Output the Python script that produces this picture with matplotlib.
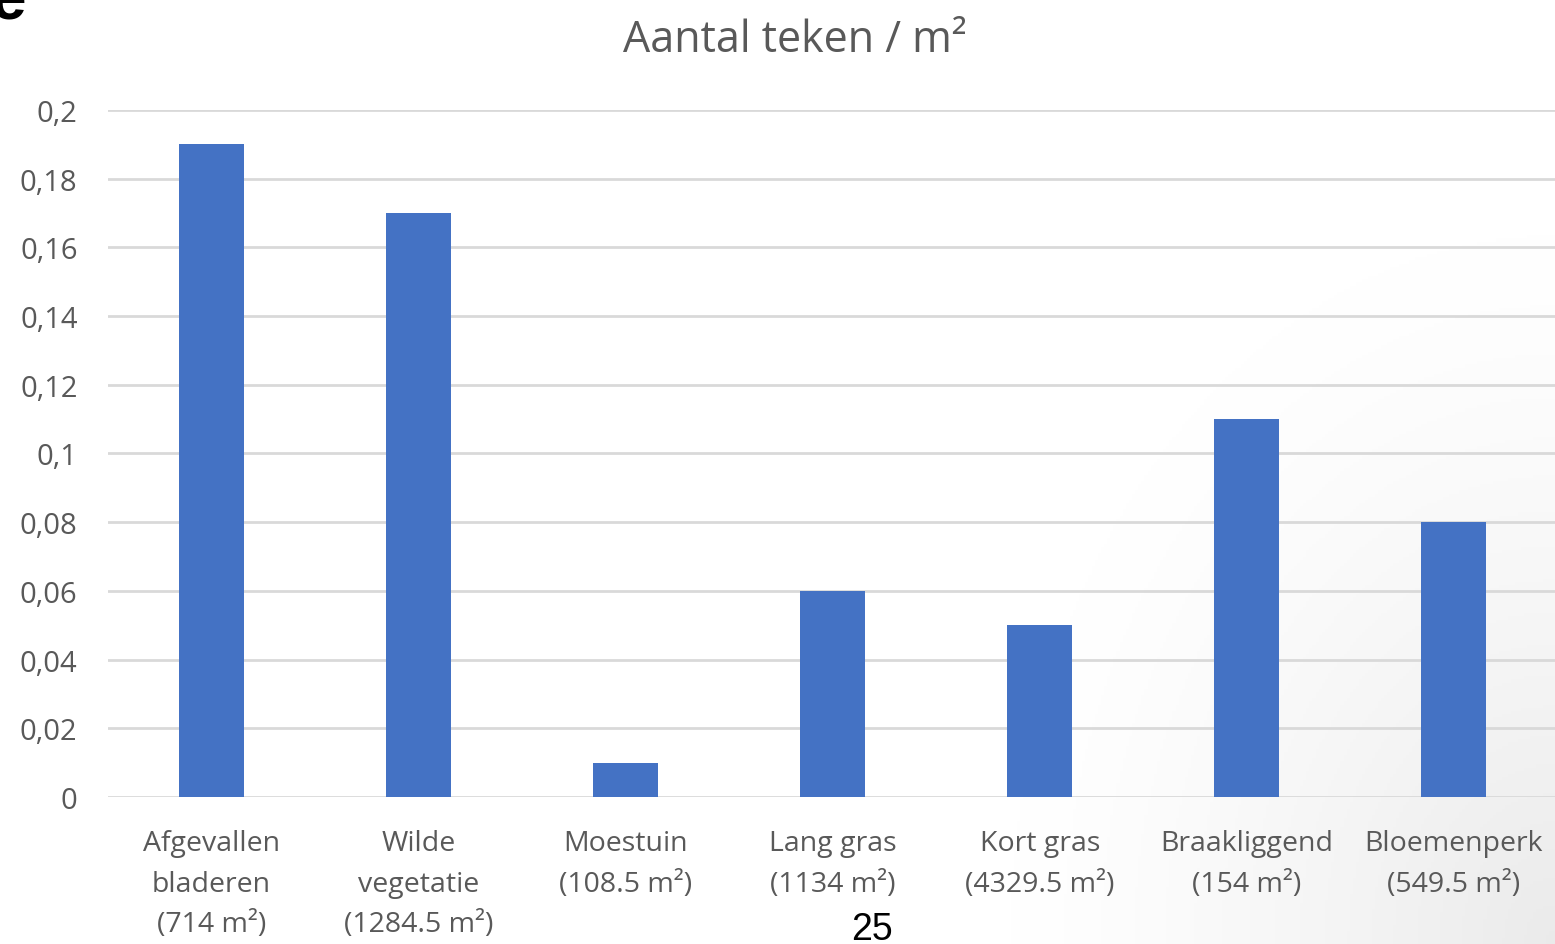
import numpy as np
import matplotlib.pyplot as plt
from matplotlib.ticker import FuncFormatter

categories = ['Afgevallen\nbladeren\n(714 m²)', 'Wilde\nvegetatie\n(1284.5 m²)', 'Moestuin\n(108.5 m²)',
              'Lang gras\n(1134 m²)', 'Kort gras\n(4329.5 m²)', 'Braakliggend\n(154 m²)',
              'Bloemenperk\n(549.5 m²)']
teken_per_m2 = [0.19, 0.17, 0.01, 0.06, 0.05, 0.11, 0.08]
y_ticks = [0, 0.02, 0.04, 0.06, 0.08, 0.1, 0.12, 0.14, 0.16, 0.18, 0.2]

grey_txt = '#595959'
fig = plt.figure(figsize=(15.55, 9.45), dpi=100)

# soft grey shading towards the bottom-right corner
bg = fig.add_axes([0, 0, 1, 1], zorder=-1)
yy, xx = np.mgrid[0:1:300j, 0:1:500j]
d = np.sqrt(((xx - 1.0) / 0.35) ** 2 + ((yy - 1.0) / 0.75) ** 2)
shade = np.clip(1 - d, 0, 1) ** 1.3 * 0.08
img = np.ones((300, 500, 3)) * (1 - shade)[..., None]
bg.imshow(img, extent=[0, 1, 0, 1], aspect='auto', origin='upper')
bg.axis('off')

ax = fig.add_axes([0.0695, 0.1556, 0.932, 0.7269])
ax.set_facecolor('none')
x = np.arange(len(categories))
ax.bar(x, teken_per_m2, width=0.315, color='#4472C4', zorder=3)

ax.set_xlim(-0.5, 6.5)
ax.set_ylim(0, 0.2)
ax.set_yticks(y_ticks)
ax.yaxis.set_major_formatter(FuncFormatter(lambda v, p: ('%g' % v).replace('.', ',')))
ax.grid(axis='y', color='#d9d9d9', linewidth=2.0, zorder=0)
for s in ax.spines.values():
    s.set_visible(False)
ax.tick_params(axis='y', length=0, pad=22, labelsize=21, labelcolor=grey_txt)
ax.tick_params(axis='x', length=0, pad=23, labelsize=20.5, labelcolor=grey_txt)
ax.set_xticks(x)
ax.set_xticklabels(categories, fontfamily='Open Sans', linespacing=1.6)
for lbl in ax.get_yticklabels():
    lbl.set_fontfamily('Open Sans')

fig.text(0.511, 0.957, 'Aantal teken / m²', ha='center', va='center',
         fontsize=31, color=grey_txt, fontfamily='Open Sans')
fig.text(0.561, 0.016, '25', ha='center', va='center', fontsize=27,
         color='black', fontfamily='Liberation Sans')
fig.text(-0.006, 0.979, 'e', ha='left', va='baseline', fontsize=46,
         fontweight='bold', color='black', fontfamily='Liberation Sans')

fig.savefig('out.png', dpi=100)
